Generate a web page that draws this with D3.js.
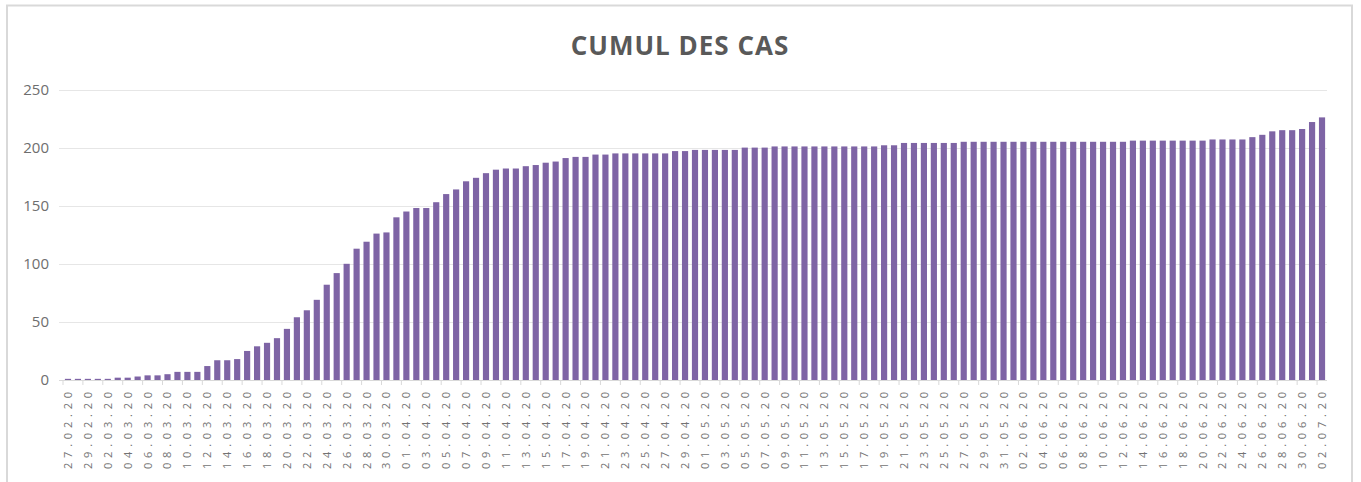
<!DOCTYPE html>
<html>
<head>
<meta charset="utf-8">
<script src="https://cdn.jsdelivr.net/npm/d3@7"></script>
<style>
  html, body { margin: 0; padding: 0; background: #ffffff; }
  svg { display: block; }
</style>
</head>
<body>
<svg id="chart"></svg>
<script>
const width = 1361, height = 482

// categories, one per day, 27.02.20 to 02.07.20
const daysFeb = ["27", "28", "29"]
const daysMar = ["01","02","03","04","05","06","07","08","09","10","11","12","13","14","15","16","17","18","19","20","21","22","23","24","25","26","27","28","29","30","31"]
const daysApr = ["01","02","03","04","05","06","07","08","09","10","11","12","13","14","15","16","17","18","19","20","21","22","23","24","25","26","27","28","29","30"]
const daysMay = ["01","02","03","04","05","06","07","08","09","10","11","12","13","14","15","16","17","18","19","20","21","22","23","24","25","26","27","28","29","30","31"]
const daysJun = ["01","02","03","04","05","06","07","08","09","10","11","12","13","14","15","16","17","18","19","20","21","22","23","24","25","26","27","28","29","30"]
const daysJul = ["01", "02"]

// cumulative cases, same order
const casesFeb = [1, 1, 1]
const casesMar = [1, 1, 2, 2, 3, 4, 4, 5, 7, 7, 7, 12, 17, 17, 18, 25, 29, 32, 36, 44, 54, 60, 69, 82, 92, 100, 113, 119, 126, 127, 140]
const casesApr = [145, 148, 148, 153, 160, 164, 171, 174, 178, 181, 182, 182, 184, 185, 187, 188, 191, 192, 192, 194, 194, 195, 195, 195, 195, 195, 195, 197, 197, 198]
const casesMay = [198, 198, 198, 198, 200, 200, 200, 201, 201, 201, 201, 201, 201, 201, 201, 201, 201, 201, 202, 202, 204, 204, 204, 204, 204, 204, 205, 205, 205, 205, 205]
const casesJun = [205, 205, 205, 205, 205, 205, 205, 205, 205, 205, 205, 205, 206, 206, 206, 206, 206, 206, 206, 206, 207, 207, 207, 207, 209, 211, 214, 215, 215, 216]
const casesJul = [222, 226]

const yTicks = [0, 50, 100, 150, 200, 250]
const title = "CUMUL DES CAS"

const labels = [
    ...daysFeb.map(d => d + ".02.20"),
    ...daysMar.map(d => d + ".03.20"),
    ...daysApr.map(d => d + ".04.20"),
    ...daysMay.map(d => d + ".05.20"),
    ...daysJun.map(d => d + ".06.20"),
    ...daysJul.map(d => d + ".07.20")
]
const cases = [...casesFeb, ...casesMar, ...casesApr, ...casesMay, ...casesJun, ...casesJul]
const data = labels.map((label, i) => ({label, value: cases[i], index: i}))

const plot = {left: 63, right: 1327, top: 89.5, bottom: 380}

const svg = d3.select("svg#chart")
    .attr("width", width)
    .attr("height", height)
    .attr("viewBox", [0, 0, width, height])

// outer frame of the chart
svg.append("rect")
    .attr("x", 7).attr("y", 5.5)
    .attr("width", 1345).attr("height", 500)
    .attr("fill", "#ffffff")
    .attr("stroke", "#d9d9d9")
    .attr("stroke-width", 2)

const x = d3.scaleBand()
    .domain(labels)
    .range([plot.left, plot.right])
    .paddingInner(0.38)
    .paddingOuter(0.19)

const y = d3.scaleLinear()
    .domain([0, 250])
    .range([plot.bottom, plot.top])

// gridlines
svg.append("g")
    .selectAll("line")
    .data(yTicks.filter(d => d > 0))
    .join("line")
    .attr("x1", plot.left - 4).attr("x2", plot.right)
    .attr("y1", d => Math.round(y(d)) + 0.5)
    .attr("y2", d => Math.round(y(d)) + 0.5)
    .attr("stroke", "#e6e6e6")
    .attr("stroke-width", 1)

// y axis labels
svg.append("g")
    .selectAll("text")
    .data(yTicks)
    .join("text")
    .attr("x", 49)
    .attr("y", d => y(d))
    .attr("dy", "0.36em")
    .attr("text-anchor", "end")
    .attr("font-family", "'Open Sans', sans-serif")
    .attr("font-size", 15)
    .attr("fill", "#6e6e6e")
    .text(d => d)

// bars
svg.append("g")
    .selectAll("rect")
    .data(data)
    .join("rect")
    .attr("x", d => x(d.label))
    .attr("width", x.bandwidth())
    .attr("y", d => y(d.value))
    .attr("height", d => y(0) - y(d.value))
    .attr("fill", "#7e64a5")

// x axis line and ticks every two categories
const step = x.step()
const axis = svg.append("g")
axis.append("line")
    .attr("x1", plot.left - 4).attr("x2", plot.right)
    .attr("y1", Math.round(y(0)) + 0.5).attr("y2", Math.round(y(0)) + 0.5)
    .attr("stroke", "#d9d9d9")

axis.selectAll("line.tick")
    .data(d3.range(0, labels.length + 1, 2))
    .join("line").attr("class", "tick")
    .attr("x1", i => plot.left + i * step)
    .attr("x2", i => plot.left + i * step)
    .attr("y1", y(0)).attr("y2", y(0) + 5)
    .attr("stroke", "#d9d9d9")

// rotated date labels, every other day
axis.selectAll("text")
    .data(data.filter(d => d.index % 2 === 0))
    .join("text")
    .attr("transform", d => `translate(${x(d.label) + x.bandwidth() / 2}, 392) rotate(-90)`)
    .attr("dy", "0.36em")
    .attr("text-anchor", "end")
    .attr("font-family", "'Open Sans', sans-serif")
    .attr("font-size", 11)
    .attr("textLength", 77)
    .attr("lengthAdjust", "spacing")
    .attr("fill", "#737373")
    .text(d => d.label)

// title
svg.append("text")
    .attr("x", 680)
    .attr("y", 55)
    .attr("text-anchor", "middle")
    .attr("font-family", "'Open Sans', sans-serif")
    .attr("font-weight", "bold")
    .attr("font-size", 26)
    .attr("letter-spacing", 1)
    .attr("fill", "#595959")
    .text(title)
</script>
</body>
</html>
